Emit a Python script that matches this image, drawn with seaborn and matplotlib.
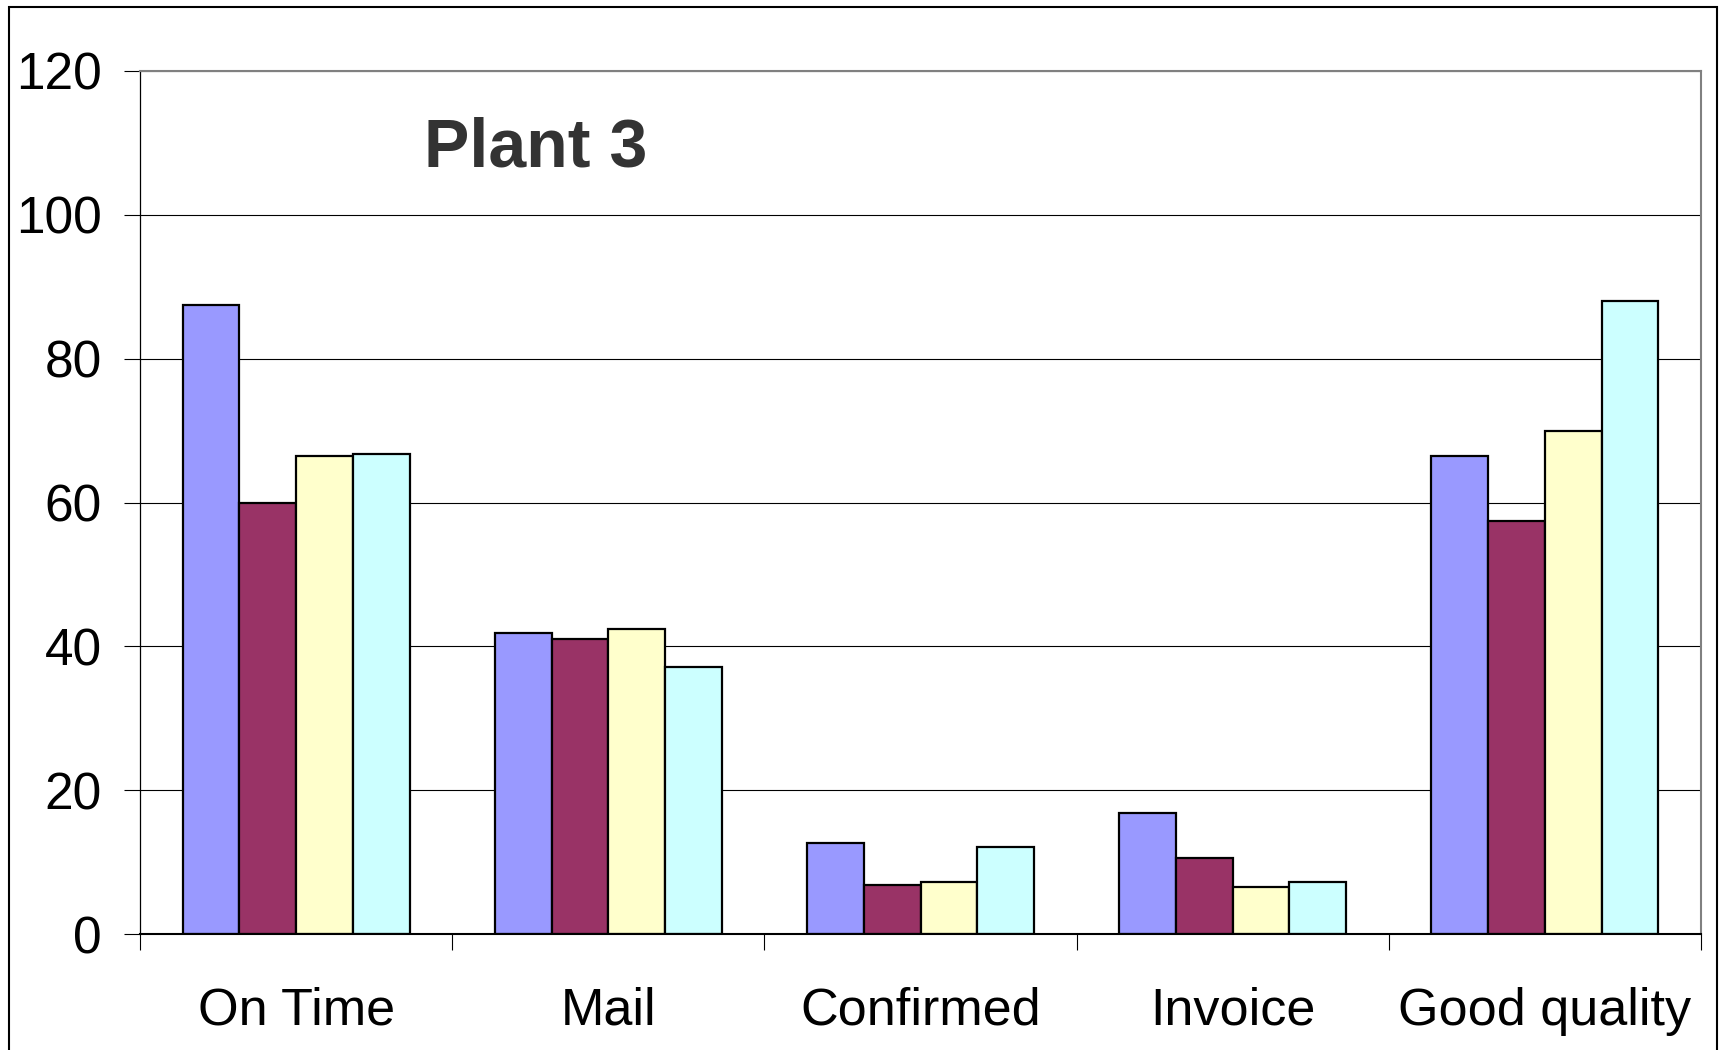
import numpy as np
import pandas as pd
import matplotlib
matplotlib.use("Agg")
import matplotlib.pyplot as plt
from matplotlib.patches import Rectangle
import seaborn as sns

# Survey results for Plant 3, four periods per measure
categories = ["On Time", "Mail", "Confirmed", "Invoice", "Good quality"]
series_names = ["Period 1", "Period 2", "Period 3", "Period 4"]
period_1 = [87.4, 41.8, 12.6, 16.8, 66.5]
period_2 = [60.0, 41.0, 6.8, 10.6, 57.4]
period_3 = [66.5, 42.4, 7.3, 6.5, 69.9]
period_4 = [66.8, 37.1, 12.1, 7.3, 88.0]
y_ticks = [0, 20, 40, 60, 80, 100, 120]
bar_colors = ["#9999FF", "#993366", "#FFFFCC", "#CCFFFF"]

rows = []
for name, vals in zip(series_names, [period_1, period_2, period_3, period_4]):
    for cat, v in zip(categories, vals):
        rows.append({"category": cat, "series": name, "value": v})
df = pd.DataFrame(rows)

sns.set_style("white")
plt.rcParams["font.family"] = ["Liberation Sans", "DejaVu Sans"]

fig = plt.figure(figsize=(17.2, 10.5), dpi=100)
ax = fig.add_axes([140 / 1720, 116 / 1050, 1561 / 1720, 863 / 1050])

sns.barplot(data=df, x="category", y="value", hue="series", order=categories,
            hue_order=series_names, palette=bar_colors, saturation=1,
            width=0.727, edgecolor="black", linewidth=1.6, legend=False, ax=ax)

ax.set_xlim(-0.5, len(categories) - 0.5)
ax.set_ylim(0, 120)
ax.set_yticks(y_ticks)
ax.set_xlabel("")
ax.set_ylabel("")

# horizontal gridlines behind the bars
ax.set_axisbelow(True)
ax.yaxis.grid(True, color="black", linewidth=0.8)
ax.xaxis.grid(False)

# category boundary ticks below the axis
ax.set_xticks(np.arange(-0.5, len(categories), 1), minor=True)
ax.tick_params(axis="x", which="major", length=0, pad=38, labelsize=37.5,
               labelcolor="black")
ax.tick_params(axis="x", which="minor", length=11.5, width=0.8,
               color="black", direction="out", bottom=True)
ax.tick_params(axis="y", length=11.5, width=0.8, color="black",
               direction="out", left=True, pad=16, labelsize=37,
               labelcolor="black")

for side in ["top", "right"]:
    ax.spines[side].set_color("#808080")
    ax.spines[side].set_linewidth(1.5)
ax.spines["left"].set_color("black")
ax.spines["left"].set_linewidth(0.9)
ax.spines["bottom"].set_color("black")
ax.spines["bottom"].set_linewidth(1.5)

ax.text(0.182, 0.889, "Plant 3", transform=ax.transAxes, fontsize=49,
        fontweight="bold", color="#333333", ha="left", va="baseline")

# outer chart border
fig.patches.append(Rectangle((9 / 1720, -0.05), 1708 / 1720, 1.05 - 7 / 1050,
                             transform=fig.transFigure, fill=False,
                             edgecolor="black", linewidth=1.5, clip_on=False))

fig.savefig("out.png", dpi=100)
